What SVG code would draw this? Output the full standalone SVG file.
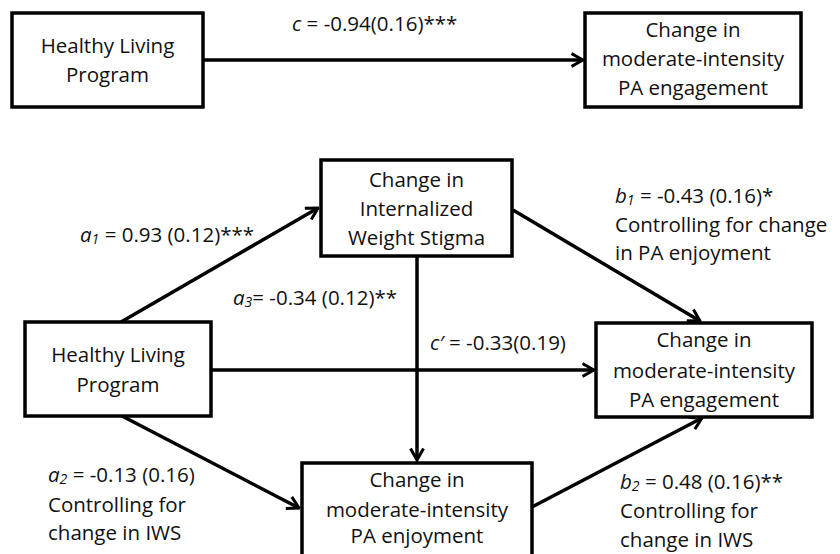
<svg xmlns="http://www.w3.org/2000/svg" width="840" height="554" viewBox="0 0 840 554">
  <style>
    .box { fill: #ffffff; stroke: #000000; stroke-width: 3.5; }
    .edge { fill: none; stroke: #000000; stroke-width: 3.5; }
    text { font-family: "Open Sans", Lato, "Liberation Sans", sans-serif; font-size: 20.5px; fill: #111111; }
    .c { text-anchor: middle; }
    .i { font-style: italic; }
    .sub { font-size: 14px; font-style: italic; }
  </style>
  <defs>
    <marker id="arr" viewBox="0 0 14 16" refX="12.5" refY="8" markerWidth="14" markerHeight="16" markerUnits="userSpaceOnUse" orient="auto">
      <path d="M1,1.5 L12.5,8 L1,14.5" fill="none" stroke="#000000" stroke-width="3" stroke-linejoin="miter"/>
    </marker>
  </defs>
  <rect width="840" height="554" fill="#ffffff"/>

  <g id="connectors">
    <line class="edge" x1="203" y1="60" x2="583" y2="60" marker-end="url(#arr)"/>
    <line class="edge" x1="121" y1="322" x2="318" y2="208" marker-end="url(#arr)"/>
    <line class="edge" x1="417" y1="256" x2="417" y2="460" marker-end="url(#arr)"/>
    <line class="edge" x1="211" y1="370" x2="594" y2="370" marker-end="url(#arr)"/>
    <line class="edge" x1="122" y1="416" x2="299" y2="508" marker-end="url(#arr)"/>
    <line class="edge" x1="513" y1="210" x2="700" y2="321" marker-end="url(#arr)"/>
    <line class="edge" x1="532" y1="507" x2="702" y2="418" marker-end="url(#arr)"/>
  </g>

  <g id="top-program">
    <rect class="box" x="12" y="13" width="191" height="94"/>
    <text class="c" x="107.5" y="53">Healthy Living</text>
    <text class="c" x="107.5" y="82">Program</text>
  </g>
  <g id="top-engagement">
    <rect class="box" x="585" y="13" width="216" height="94"/>
    <text class="c" x="693" y="37">Change in</text>
    <text class="c" x="693" y="66">moderate-intensity</text>
    <text class="c" x="693" y="95">PA engagement</text>
  </g>

  <g id="iws">
    <rect class="box" x="321" y="160" width="191" height="96"/>
    <text class="c" x="416.5" y="187">Change in</text>
    <text class="c" x="416.5" y="216">Internalized</text>
    <text class="c" x="416.5" y="245">Weight Stigma</text>
  </g>
  <g id="program">
    <rect class="box" x="25" y="322" width="186" height="94"/>
    <text class="c" x="118" y="362">Healthy Living</text>
    <text class="c" x="118" y="392">Program</text>
  </g>
  <g id="engagement">
    <rect class="box" x="596" y="323" width="216" height="94"/>
    <text class="c" x="704" y="347">Change in</text>
    <text class="c" x="704" y="378">moderate-intensity</text>
    <text class="c" x="704" y="407">PA engagement</text>
  </g>
  <g id="enjoyment">
    <rect class="box" x="302" y="463" width="230" height="100"/>
    <text class="c" x="417" y="487">Change in</text>
    <text class="c" x="417" y="517">moderate-intensity</text>
    <text class="c" x="417" y="543">PA enjoyment</text>
  </g>

  <g id="labels">
    <text x="292" y="31"><tspan class="i">c</tspan> = -0.94(0.16)***</text>
    <text x="80" y="242"><tspan class="i">a</tspan><tspan class="sub" dy="2">1</tspan><tspan dy="-2"> = 0.93 (0.12)***</tspan></text>
    <text x="233" y="305"><tspan class="i">a</tspan><tspan class="sub" dy="2">3</tspan><tspan dy="-2">= -0.34 (0.12)**</tspan></text>
    <text x="430" y="350"><tspan class="i">c′</tspan> = -0.33(0.19)</text>
    <text x="615" y="203"><tspan class="i">b</tspan><tspan class="sub" dy="2">1</tspan><tspan dy="-2"> = -0.43 (0.16)*</tspan></text>
    <text x="615" y="232">Controlling for change</text>
    <text x="615" y="260">in PA enjoyment</text>
    <text x="48" y="482"><tspan class="i">a</tspan><tspan class="sub" dy="2">2</tspan><tspan dy="-2"> = -0.13 (0.16)</tspan></text>
    <text x="48" y="512">Controlling for</text>
    <text x="48" y="540">change in IWS</text>
    <text x="620" y="489"><tspan class="i">b</tspan><tspan class="sub" dy="2">2</tspan><tspan dy="-2"> = 0.48 (0.16)**</tspan></text>
    <text x="620" y="518">Controlling for</text>
    <text x="620" y="547">change in IWS</text>
  </g>
</svg>
